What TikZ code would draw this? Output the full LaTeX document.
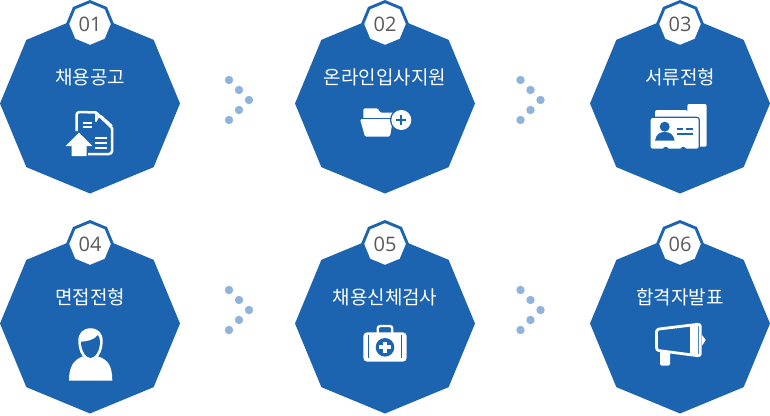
\documentclass[tikz,border=0pt]{standalone}
\usepackage{fontspec}
\setmainfont{Open Sans}
\newfontfamily\krfont{Noto Sans CJK KR}
\usetikzlibrary{shapes.geometric}
\definecolor{stepblue}{HTML}{1C64B0}
\definecolor{dotblue}{HTML}{8FB3DA}
\definecolor{numgray}{HTML}{5A5A5A}
\tikzset{
    octbig/.style={regular polygon,regular polygon sides=8,shape border rotate=22.5,fill=stepblue,minimum size=180pt,inner sep=0pt,outer sep=0pt},
    octrim/.style={regular polygon,regular polygon sides=8,shape border rotate=22.5,fill=stepblue,minimum size=48pt,inner sep=0pt,outer sep=0pt},
    octnum/.style={regular polygon,regular polygon sides=8,shape border rotate=22.5,fill=white,minimum size=41.5pt,inner sep=0pt,outer sep=0pt,text=numgray,font=\fontsize{20pt}{20pt}\selectfont},
    steptitle/.style={text=white,inner sep=0pt,font=\krfont\fontsize{19pt}{20pt}\selectfont},
    dotmark/.style={circle,fill=dotblue,minimum size=8.4pt,inner sep=0pt},
    iconline/.style={draw=white,line width=2.5pt,line join=round}
}
\begin{document}
\begin{tikzpicture}[x=1pt,y=-1pt]
    \useasboundingbox (0,0) rectangle (770,415);
    % the six steps
    \foreach \x/\y/\num/\title in {90/103.5/01/채용공고,385/103.5/02/온라인입사지원,680/103.5/03/서류전형,90/323.5/04/면접전형,385/323.5/05/채용신체검사,680/323.5/06/합격자발표} {
        \node[octbig] (oct\num) at (\x,\y) {};
        \node[octrim] (rim\num) at (\x,\y-79.5) {};
        \node[octnum] (num\num) at (\x,\y-79.5) {\num};
        \node[steptitle] (title\num) at (\x,\y-26) {\title};
    }
    % dots between the steps
    \foreach \x/\y/\name in {229/100/a,520.5/100/b,229/310/c,520.5/310/d} {
        \node[dotmark] (\name1) at (\x,\y-20) {};
        \node[dotmark] (\name2) at (\x+10,\y-10) {};
        \node[dotmark] (\name3) at (\x+20,\y) {};
        \node[dotmark] (\name4) at (\x+10,\y+10) {};
        \node[dotmark] (\name5) at (\x,\y+20) {};
    }
    % icon 01, document
    \draw[iconline] (76.5,131) -- (76.5,115) arc (180:270:3) -- (96,112.5) -- (112,128) -- (112,151) arc (0:90:3) -- (88,154);
    \draw[iconline,line width=2pt] (96,112.5) -- (96,121) arc (180:270:5) -- (112,126);
    \foreach \y in {122.7,126.9} \draw[white,line width=2pt] (82.7,\y) -- (91.7,\y);
    \foreach \y in {137.7,142.7,147.7} \draw[white,line width=2pt] (95,\y) -- (106.7,\y);
    \fill[white] (79,132.7) -- (92.3,146) -- (86.7,146) -- (86.7,156) -- (71.7,156) -- (71.7,146) -- (65.7,146) -- cycle;
    % icon 02, folder
    \fill[white,rounded corners=1.5pt] (363.3,120) -- (363.3,108.3) -- (378,108.3) -- (380,112.7) -- (394,112.7) -- (394,120) -- cycle;
    \fill[white,rounded corners=1.5pt] (360,119) -- (393,119) -- (390,136.7) -- (365,136.7) -- cycle;
    \draw[stepblue,line width=1pt] (363,118.4) -- (394,118.4);
    \fill[stepblue] (401.3,120) circle (11.4);
    \fill[white] (401.3,120) circle (10);
    \draw[stepblue,line width=2.3pt] (396.3,120) -- (406.3,120) (401.3,115) -- (401.3,125);
    % icon 03, cards
    \fill[white,rounded corners=2pt] (687.3,112) -- (687.3,104) -- (706.7,104) -- (706.7,146.7) -- (655,146.7) -- (655,110) -- (687.3,110) -- cycle;
    \fill[white,draw=stepblue,line width=1.2pt,rounded corners=2.5pt] (650,117.3) rectangle (699.3,149.3);
    \fill[stepblue] (665.7,149.8) circle (3) (683.3,149.8) circle (3);
    \fill[stepblue] (664.7,126.7) circle (5);
    \fill[stepblue] (655,140.7) .. controls (656,134) and (660,132) .. (664.7,132) .. controls (669.5,132) and (673.5,134) .. (674.7,140.7) -- cycle;
    \draw[stepblue,line width=1.7pt] (676.7,128.7) -- (682.7,128.7) (685.7,128.7) -- (692.7,128.7) (676.7,134) -- (692.7,134);
    % icon 04, person
    \fill[white] (69,380.7) .. controls (69,366) and (74,360) .. (82,356.7) -- (99,356.7) .. controls (108,360) and (112.3,366) .. (112.3,380.7) -- cycle;
    \fill[white] (90.5,328.3) .. controls (98,328.3) and (102.7,333) .. (102.7,341) .. controls (102.7,352) and (97,361) .. (90.5,361) .. controls (84,361) and (78.3,352) .. (78.3,341) .. controls (78.3,333) and (83,328.3) .. (90.5,328.3) -- cycle;
    \fill[stepblue] (81,341.7) .. controls (88,341.5) and (95,339.5) .. (98,335) .. controls (99.5,337) and (100,339) .. (100,342) .. controls (100,350) and (95.5,358) .. (90.5,358) .. controls (85.5,358) and (81,350) .. (81,341.7) -- cycle;
    % icon 05, medical case
    \draw[white,line width=2.3pt,rounded corners=2.5pt] (377.7,333) -- (377.7,326) -- (392.3,326) -- (392.3,333);
    \fill[white,rounded corners=4pt] (363.3,332.3) rectangle (406.7,361.7);
    \draw[stepblue,line width=1.2pt] (368.3,335) -- (368.3,358) (401.7,335) -- (401.7,358);
    \fill[stepblue] (385,347.3) circle (9.3);
    \draw[white,line width=3.7pt] (379.3,347.3) -- (390.7,347.3) (385,341.6) -- (385,353);
    % icon 06, megaphone
    \draw[iconline,line width=2.8pt,rounded corners=2.5pt] (656.5,329.3) -- (700.3,324) -- (700.3,356) -- (656.5,350.3) -- cycle;
    \fill[white] (690,325) -- (698,324) -- (698,356) -- (690,355) -- cycle;
    \fill[white] (702,335) -- (705.7,340) -- (702,345.7) -- cycle;
    \fill[white,rounded corners=1.5pt] (660,351) -- (670,352) -- (670,365.7) -- (660,365.7) -- cycle;
\end{tikzpicture}
\end{document}
